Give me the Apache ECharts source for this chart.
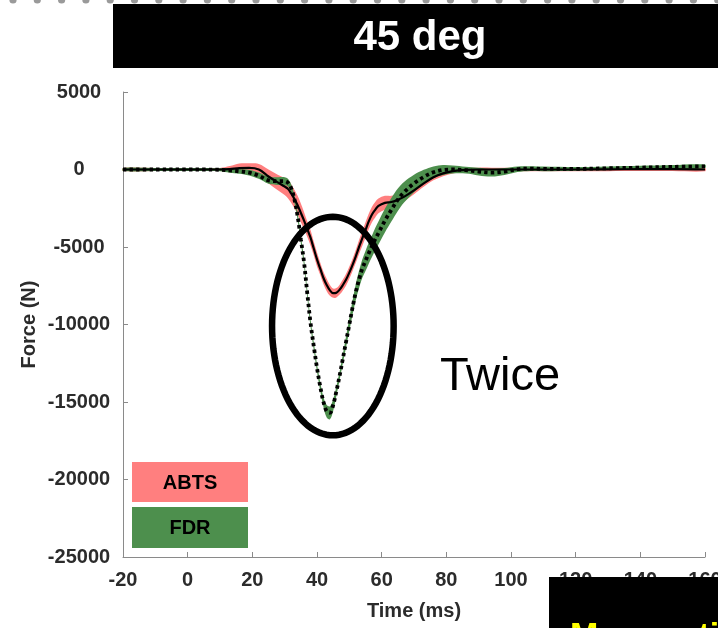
<!DOCTYPE html>
<html>
<head>
<meta charset="utf-8">
<script src="https://cdn.jsdelivr.net/npm/echarts@6/dist/echarts.min.js"></script>
<style>
  html, body { margin: 0; padding: 0; background: #ffffff; }
  #chart { width: 718px; height: 628px; }
</style>
</head>
<body>
<div id="chart"></div>
<script>
// Impact force at 45 deg: mean curves with shaded spread for ABTS and FDR
const timeMs = [-20,-10,0,5,10,13,16,19,22,25,28,
  30,31,32,33,34,35,36,37,38,39,
  40,41,42,43,44,45,46,47,48,49,
  50,51,52,53,54,55,56,57,58,59,
  61,63,65,67,70,73,76,79,82,
  86,90,94,98,102,106,110,120,130,140,150,160];

const abtsMean = [0,0,0,0,0,20,90,100,0,-450,-850,
  -1100,-1250,-1550,-1900,-2300,-2800,-3300,-3850,-4400,-5100,
  -5800,-6400,-7000,-7450,-7800,-7980,-7950,-7750,-7450,-7100,
  -6650,-6150,-5600,-5000,-4450,-3900,-3350,-2900,-2600,-2350,
  -2150,-2100,-1950,-1750,-1350,-900,-500,-250,-100,
  -20,0,0,0,0,0,0,0,10,20,20,0];

const abtsSpread = [100,100,100,100,100,200,300,300,350,450,500,
  550,600,600,600,600,600,550,500,500,450,
  450,400,400,400,350,300,300,320,350,380,
  400,400,420,450,480,500,500,500,500,480,
  450,400,350,300,250,220,200,180,150,
  120,120,120,120,120,120,120,120,120,120,120,120];

const fdrMean = [0,0,0,0,-20,-60,-120,-200,-400,-700,-750,
  -750,-850,-1200,-1900,-3000,-4500,-6000,-8000,-9900,-11400,
  -12800,-14000,-15000,-15600,-15700,-15200,-14300,-13300,-12200,-11100,
  -10000,-8900,-7900,-7100,-6400,-5900,-5400,-4950,-4500,-4100,
  -3300,-2600,-1950,-1450,-900,-480,-180,-30,0,
  -40,-130,-200,-130,20,60,40,40,80,120,170,200];

const fdrSpread = [100,100,100,100,100,150,150,180,200,220,250,
  250,250,250,250,250,250,250,250,250,250,
  250,280,320,400,420,380,300,280,300,350,
  400,450,520,560,600,650,680,700,720,740,
  760,760,720,660,560,460,380,320,260,
  220,250,250,220,180,150,150,120,120,120,120,120];

const xTicks = { min: -20, max: 160, step: 20 };
const yTicks = { min: -25000, max: 5000, step: 5000 };

const groupNames = ['ABTS', 'FDR'];
const groupColors = ['#ff7f7f', '#4d8f4d'];

const pairs = vals => timeMs.map((t, i) => [t, vals[i]]);
const SMOOTH = 0.35;

// Shaded spread (mean ± spread) as one smoothed polygon in data space
function bandSeries(name, mean, spread, color) {
  return {
    name: name + ' spread',
    type: 'custom',
    coordinateSystem: 'cartesian2d',
    silent: true,
    z: 1,
    data: [[timeMs[0], mean[0]]],
    encode: { x: 0, y: 1 },
    renderItem: (params, api) => {
      const top = timeMs.map((t, i) => api.coord([t, mean[i] + spread[i]]));
      const bottom = timeMs.map((t, i) => api.coord([t, mean[i] - spread[i]])).reverse();
      return {
        type: 'polygon',
        shape: { points: top.concat(bottom), smooth: SMOOTH },
        style: { fill: color }
      };
    }
  };
}

const axisGray = '#8a8a8a';
const labelFont = { fontFamily: 'Liberation Sans, Arial, sans-serif', fontWeight: 'bold', fontSize: 20, color: '#2b2b2b' };

const chart = echarts.init(document.getElementById('chart'));

chart.setOption({
  animation: false,
  backgroundColor: '#ffffff',
  grid: { left: 123, right: 13, top: 92, bottom: 71, containLabel: false, outerBoundsMode: 'none' },
  xAxis: {
    type: 'value', min: xTicks.min, max: xTicks.max, interval: xTicks.step,
    axisLine: { show: true, onZero: false, lineStyle: { color: axisGray, width: 1 } },
    axisTick: { show: true, inside: true, length: 5, lineStyle: { color: axisGray } },
    splitLine: { show: false },
    axisLabel: Object.assign({ margin: 13, formatter: v => String(v) }, labelFont),
    name: 'Time (ms)', nameLocation: 'middle', nameGap: 44, nameMoveOverlap: false,
    nameTextStyle: labelFont
  },
  yAxis: {
    type: 'value', min: yTicks.min, max: yTicks.max, interval: yTicks.step,
    axisLine: { show: true, onZero: false, lineStyle: { color: axisGray, width: 1 } },
    axisTick: { show: true, inside: true, length: 5, lineStyle: { color: axisGray } },
    splitLine: { show: false },
    axisLabel: Object.assign({ margin: 44, align: 'center', formatter: v => String(v) }, labelFont),
    name: 'Force (N)', nameLocation: 'middle', nameGap: 84, nameMoveOverlap: false,
    nameTextStyle: labelFont
  },
  series: [
    bandSeries(groupNames[0], abtsMean, abtsSpread, groupColors[0]),
    bandSeries(groupNames[1], fdrMean, fdrSpread, groupColors[1]),
    {
      name: groupNames[0], type: 'line', data: pairs(abtsMean), smooth: SMOOTH,
      symbol: 'none', lineStyle: { color: '#000000', width: 2.2 }, z: 3
    },
    {
      name: groupNames[1], type: 'line', data: pairs(fdrMean), smooth: SMOOTH,
      symbol: 'none',
      lineStyle: { color: '#000000', width: 3.8, type: [3.4, 3.2], cap: 'butt' }, z: 4
    }
  ]
});

// Ring drawn around the two force peaks, placed in data units
const ringCenter = [44.9, -10100];
const ringHalfSpan = [18.8, 7050];
const c = chart.convertToPixel({ gridIndex: 0 }, ringCenter);
const e = chart.convertToPixel({ gridIndex: 0 }, [ringCenter[0] + ringHalfSpan[0], ringCenter[1] + ringHalfSpan[1]]);
const rx = Math.abs(e[0] - c[0]);
const ry = Math.abs(c[1] - e[1]);
const ringPts = [];
for (let k = 0; k < 120; k++) {
  const a = (k / 120) * Math.PI * 2;
  ringPts.push([c[0] + rx * Math.cos(a), c[1] + ry * Math.sin(a)]);
}

// Row of grey dots along the top edge
const dots = [];
for (let x = 13; x < 722; x += 24.3) {
  dots.push({ type: 'circle', shape: { cx: x, cy: 0, r: 3.6 }, style: { fill: '#9a9a9a' }, silent: true });
}

const boxText = (x, y, text) => ({
  type: 'text', x: x, y: y,
  style: { text: text, fill: '#000000', font: 'bold 20px "Liberation Sans", Arial, sans-serif', align: 'center', verticalAlign: 'middle' }
});

chart.setOption({
  graphic: [
    ...dots,
    { type: 'rect', shape: { x: 113, y: 4, width: 610, height: 64 }, style: { fill: '#000000' }, silent: true },
    { type: 'text', x: 420, y: 38, style: { text: '45 deg', fill: '#ffffff', font: 'bold 42px "Liberation Sans", Arial, sans-serif', align: 'center', verticalAlign: 'middle' } },
    { type: 'rect', shape: { x: 132, y: 462, width: 116, height: 40 }, style: { fill: groupColors[0] } },
    boxText(190, 483, groupNames[0]),
    { type: 'rect', shape: { x: 132, y: 507, width: 116, height: 41 }, style: { fill: groupColors[1] } },
    boxText(190, 528, groupNames[1]),
    { type: 'polygon', shape: { points: ringPts }, style: { fill: null, stroke: '#000000', lineWidth: 6.5 }, z: 100 },
    { type: 'text', x: 440, y: 377, style: { text: 'Twice', fill: '#000000', font: '47px "Liberation Sans", Arial, sans-serif', align: 'left', verticalAlign: 'middle' } },
    { type: 'rect', shape: { x: 549, y: 577, width: 175, height: 60 }, style: { fill: '#000000' }, z: 100 },
    { type: 'text', x: 570, y: 637, z: 101, style: { text: 'Mean ratio', fill: '#ffff00', font: 'bold 34px "Liberation Sans", Arial, sans-serif', align: 'left', verticalAlign: 'middle' } }
  ]
});
</script>
</body>
</html>
